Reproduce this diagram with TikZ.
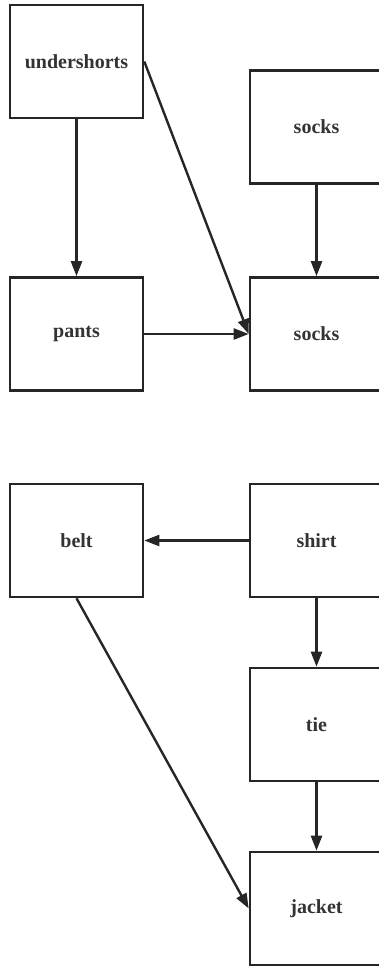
\documentclass[tikz,border=0pt]{standalone}
\usepackage{fontspec}
\setmainfont{Liberation Serif}
\usetikzlibrary{arrows.meta}
\begin{document}
\begin{tikzpicture}[x=1pt,y=-1pt,
  item/.style={draw=black!85, line width=2.6pt, minimum width=133pt, minimum height=113pt,
    inner sep=0pt, font=\fontsize{20}{24}\selectfont\bfseries, text=black!80},
  link/.style={draw=black!85, line width=2.4pt, -{Triangle[length=15pt,width=11pt]}}]
  \useasboundingbox (0,0) rectangle (378,966);
  % left column
  \node[item] (undershorts) at (76.5,61.5) {undershorts};
  \node[item] (pants) at (76.5,334) {pants};
  \node[item] (belt) at (76.5,540.5) {belt};
  % right column
  \node[item] (socksA) at (316.5,127) {socks};
  \node[item] (socksB) at (316.5,334) {socks};
  \node[item] (shirt) at (316.5,540.5) {shirt};
  \node[item] (tie) at (316.5,724.5) {tie};
  \node[item] (jacket) at (316.5,908.5) {jacket};
  % dependencies
  \draw[link] (undershorts) -- (pants);
  \draw[link] (undershorts.east) -- (socksB.west);
  \draw[link] (socksA) -- (socksB);
  \draw[link] (pants) -- (socksB);
  \draw[link] (shirt) -- (belt);
  \draw[link] (belt.south) -- (jacket.west);
  \draw[link] (shirt) -- (tie);
  \draw[link] (tie) -- (jacket);
\end{tikzpicture}
\end{document}
